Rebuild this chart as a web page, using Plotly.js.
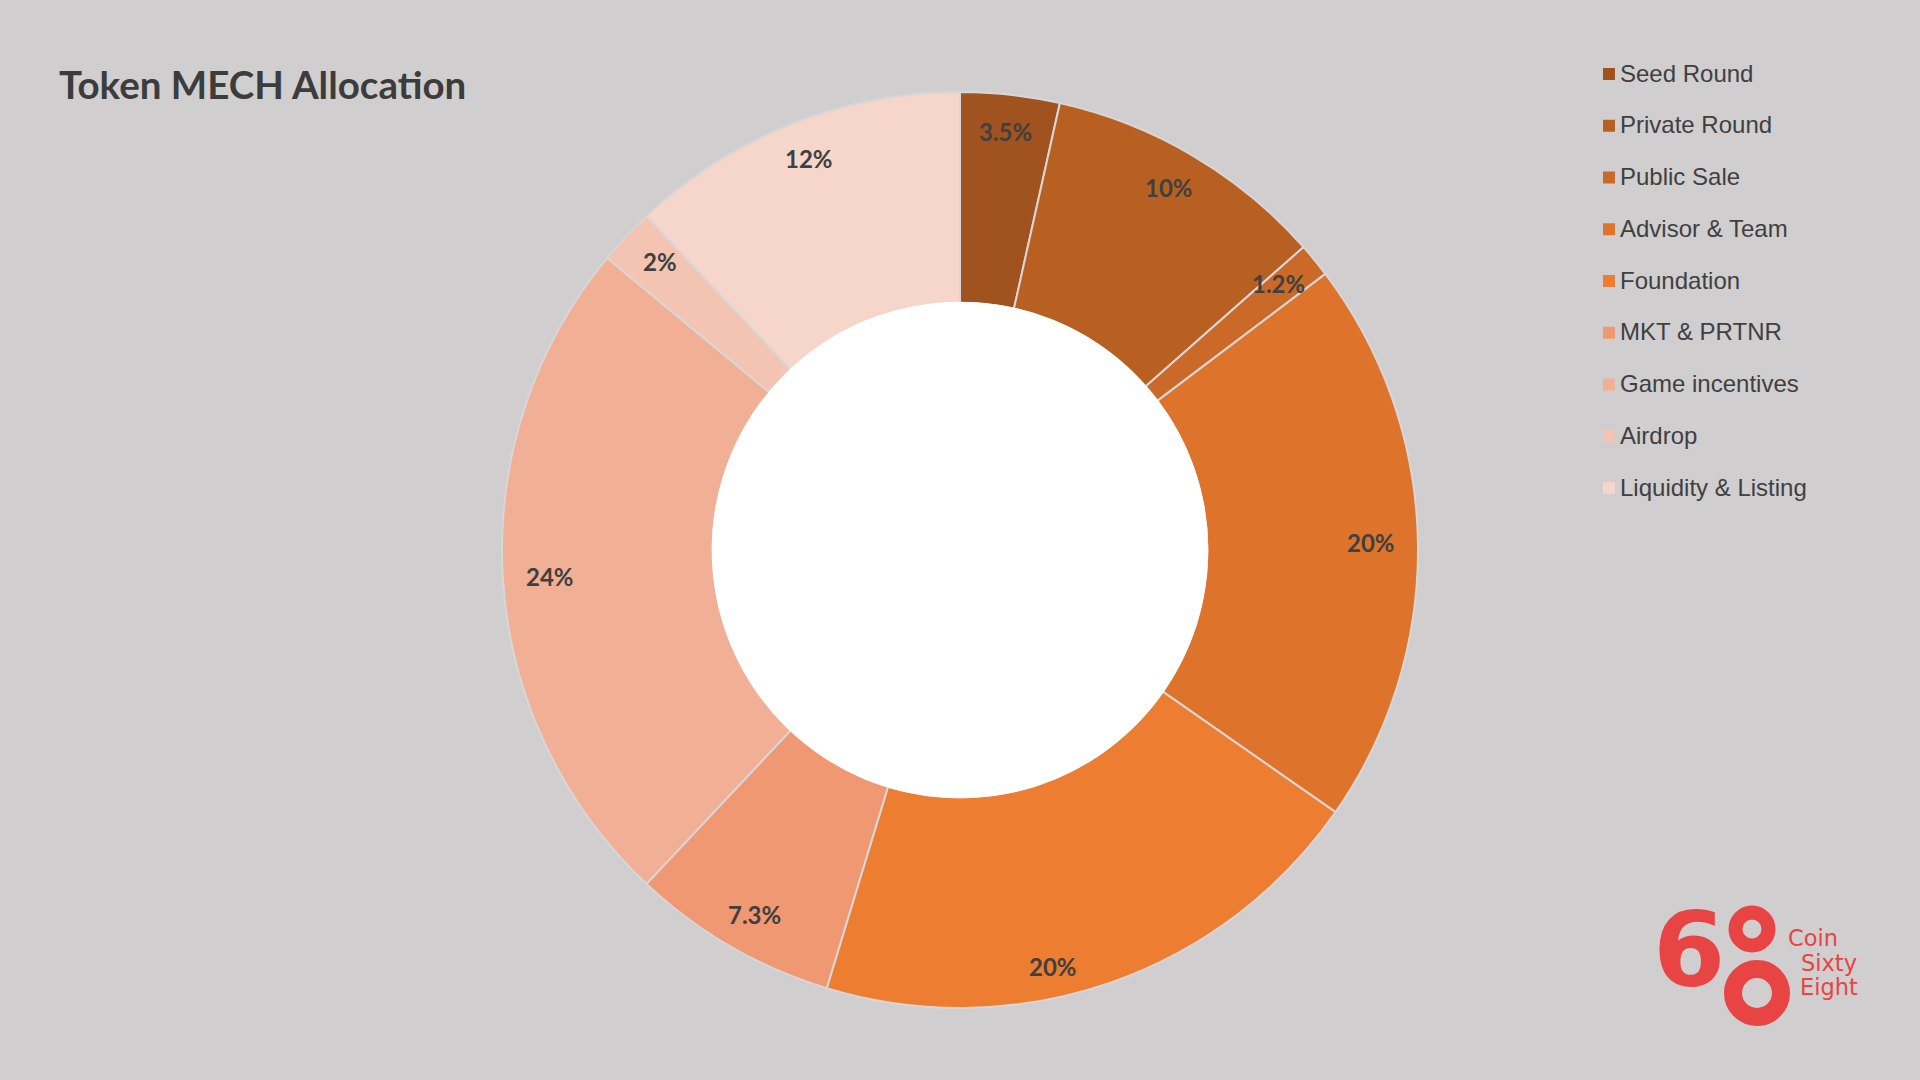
<!DOCTYPE html>
<html>
<head>
<meta charset="utf-8">
<script src="https://cdn.plot.ly/plotly-3.0.1.min.js"></script>
<style>
html,body{margin:0;padding:0;background:#D0CECF;}
#chart{width:1920px;height:1080px;}
</style>
</head>
<body>
<div id="chart"></div>
<script>
// ---- data ----
const categories = ['Seed Round','Private Round','Public Sale','Advisor & Team','Foundation','MKT & PRTNR','Game incentives','Airdrop','Liquidity & Listing'];
const shares = [3.5, 10, 1.2, 20, 20, 7.3, 24, 2, 12];
const shareLabels = ['3.5%','10%','1.2%','20%','20%','7.3%','24%','2%','12%'];
const chartTitle = 'Token MECH Allocation';
const logoWords = ['Coin', 'Sixty', 'Eight'];

// ---- style ----
const colors = ['#A0521F','#B86022','#CB6A28','#DE742C','#ED7D31','#EF9871','#F1AF95','#F3C4B2','#F6D5CA'];
const W = 1920, H = 1080;
const BG = '#D0CECF';
const TXT = '#404040';
const RED = '#E84444';
const cx = 960, cyTop = 550, R = 458, HOLE = 0.54;
const labelRx = 411, labelRy = 421;
const labelNudge = {4: {dAng: 6.2, dR: 6}};   // manual placement of one label, as in the reference

const px = x => x / W;
const py = y => 1 - y / H;

const trace = {
  type: 'pie',
  labels: categories,
  values: shares,
  sort: false,
  direction: 'clockwise',
  rotation: 0,
  hole: HOLE,
  textinfo: 'none',
  hoverinfo: 'label+percent',
  showlegend: false,
  marker: {colors: colors, line: {color: '#D8D6D7', width: 2}},
  domain: {x: [0, 1], y: [py(cyTop + R), py(cyTop - R)]}
};

const annotations = [];
const shapes = [];

// slice labels positioned at mid-angle of each slice
const total = shares.reduce((a, b) => a + b, 0);
let cum = 0;
shares.forEach((v, i) => {
  let midDeg = (cum + v / 2) / total * 360;
  cum += v;
  let dR = 0;
  if (labelNudge[i]) { midDeg += labelNudge[i].dAng; dR = labelNudge[i].dR; }
  const mid = midDeg * Math.PI / 180;
  annotations.push({
    text: shareLabels[i],
    x: px(cx + (labelRx + dR) * Math.sin(mid)),
    y: py(cyTop - (labelRy + dR) * Math.cos(mid)),
    xref: 'paper', yref: 'paper', xanchor: 'center', yanchor: 'middle',
    showarrow: false,
    font: {family: 'Lato, "Open Sans", sans-serif', size: 24, color: TXT, weight: 700}
  });
});

// white centre (covers the inner slice outlines)
const hr = R * HOLE + 1;
shapes.push({type: 'circle', xref: 'paper', yref: 'paper', layer: 'above',
  x0: px(cx - hr), x1: px(cx + hr), y0: py(cyTop + hr), y1: py(cyTop - hr),
  fillcolor: '#FFFFFF', line: {width: 0}});

// title
annotations.push({
  text: '<b>' + chartTitle + '</b>', x: px(57), y: py(84), xref: 'paper', yref: 'paper',
  xanchor: 'left', yanchor: 'middle', showarrow: false,
  font: {family: 'Lato, "Open Sans", sans-serif', size: 38.5, color: '#3C3C3C'}
});

// legend
const legTop = 73, legStep = 51.75;
categories.forEach((c, i) => {
  const y = legTop + i * legStep;
  shapes.push({type: 'rect', xref: 'paper', yref: 'paper',
    x0: px(1603), x1: px(1615), y0: py(y + 7), y1: py(y - 5),
    fillcolor: colors[i], line: {width: 0}});
  annotations.push({
    text: c, x: px(1618), y: py(y), xref: 'paper', yref: 'paper',
    xanchor: 'left', yanchor: 'middle', showarrow: false,
    font: {family: '"Liberation Sans", Arial, sans-serif', size: 24, color: TXT}
  });
});

// logo
annotations.push({text: '<b>6</b>', x: px(1689), y: py(950), xref: 'paper', yref: 'paper',
  xanchor: 'center', yanchor: 'middle', showarrow: false,
  font: {family: '"DejaVu Sans", sans-serif', size: 104, color: RED}});
function ring(x, y, rMid, w) {
  shapes.push({type: 'circle', xref: 'paper', yref: 'paper', layer: 'above',
    x0: px(x - rMid), x1: px(x + rMid), y0: py(y + rMid), y1: py(y - rMid),
    fillcolor: 'rgba(0,0,0,0)', line: {color: RED, width: w}});
}
ring(1752, 929, 16.5, 14);
ring(1757, 993, 24, 18);
const logoPos = [[1813, 938], [1829, 962.5], [1829, 987]];
logoWords.forEach((w, i) => {
  annotations.push({text: w, x: px(logoPos[i][0]), y: py(logoPos[i][1]), xref: 'paper', yref: 'paper',
    xanchor: 'center', yanchor: 'middle', showarrow: false,
    font: {family: '"DejaVu Sans", sans-serif', size: 22.5, color: RED}});
});

const layout = {
  width: W, height: H,
  margin: {l: 0, r: 0, t: 0, b: 0, pad: 0},
  paper_bgcolor: BG, plot_bgcolor: BG,
  showlegend: false,
  annotations: annotations,
  shapes: shapes
};

Plotly.newPlot('chart', [trace], layout, {displayModeBar: false, staticPlot: true});
</script>
</body>
</html>
